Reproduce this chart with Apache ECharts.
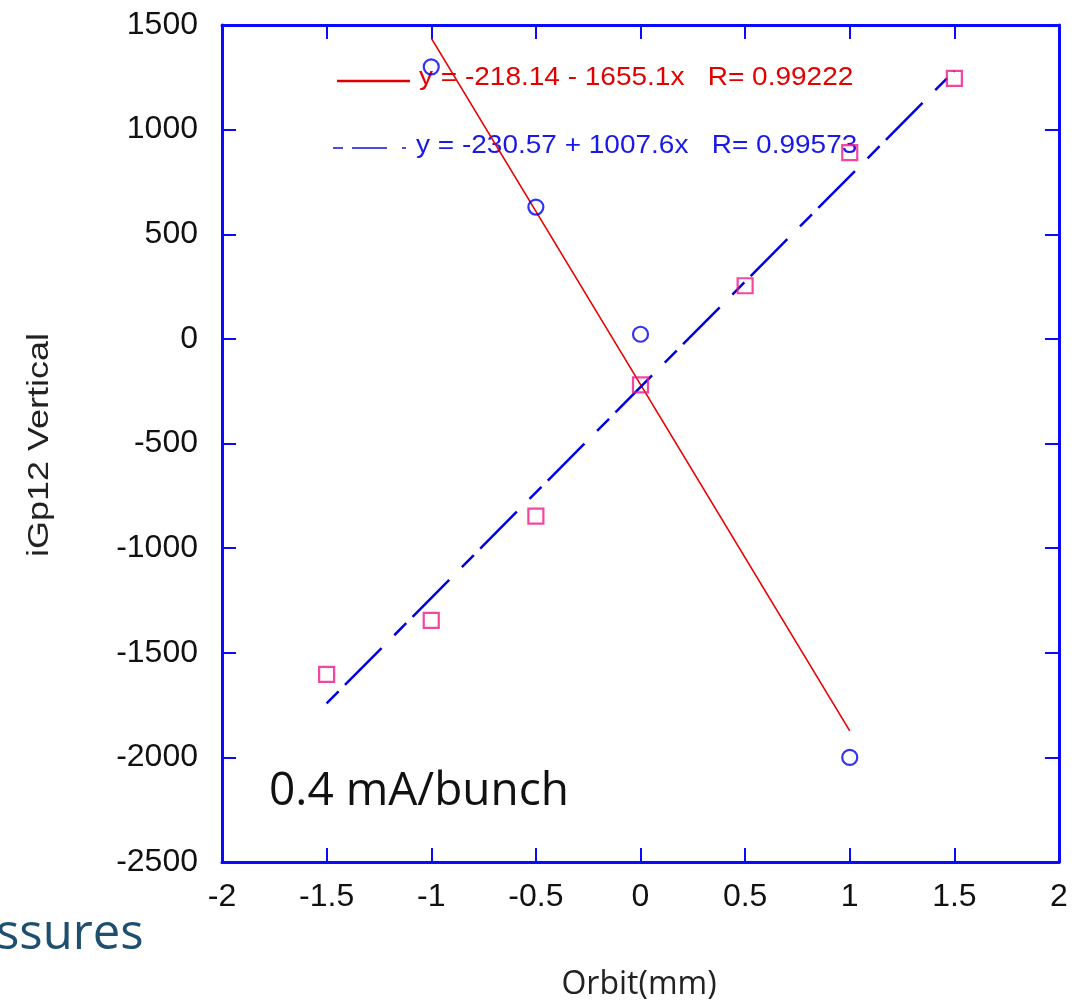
<!DOCTYPE html>
<html><head><meta charset="utf-8">
<script src="https://cdn.jsdelivr.net/npm/echarts@6/dist/echarts.min.js"></script>
<style>html,body{margin:0;padding:0;background:#fff}#c{width:1088px;height:1002px}</style>
</head><body><div id="c"></div>
<script>
const circlePts = [[-1, 1300], [-0.5, 630], [0, 22], [1, -2000]];
const squarePts = [[-1.5, -1603], [-1, -1345], [-0.5, -847], [0, -220], [0.5, 254], [1, 890], [1.5, 1245]];
const redFit = [[-1, 1437], [1, -1873]];
const blueFit = [[-1.5, -1742], [1.5, 1281]];
const redLabel = 'y = -218.14 - 1655.1x   R= 0.99222';
const blueLabel = 'y = -230.57 + 1007.6x   R= 0.99573';
const xTitle = 'Orbit(mm)';
const yTitle = 'iGp12 Vertical';
const note = '0.4 mA/bunch';
const cutText = 'ssures';

const AX = '#0a0aff';
const F = 'Liberation Sans, Arial, sans-serif';
const OS = '"Open Sans", "Noto Sans", sans-serif';
const chart = echarts.init(document.getElementById('c'));
const axisCommon = {
  axisLine: {show: true, onZero: false, lineStyle: {color: AX, width: 3}},
  axisTick: {show: true, inside: true, length: 14, lineStyle: {color: AX, width: 2}},
  splitLine: {show: false}
};
const plain = v => String(v);
chart.setOption({
  animation: false,
  backgroundColor: '#fff',
  grid: {left: 222, right: 29, top: 25, bottom: 140, containLabel: false},
  xAxis: [
    Object.assign({type: 'value', min: -2, max: 2, interval: 0.5, position: 'bottom',
      axisLabel: {color: '#111', fontSize: 32, fontFamily: F, margin: 19, formatter: plain}}, axisCommon),
    Object.assign({type: 'value', min: -2, max: 2, interval: 0.5, position: 'top',
      axisLabel: {show: false}}, axisCommon)
  ],
  yAxis: [
    Object.assign({type: 'value', min: -2500, max: 1500, interval: 500, position: 'left',
      axisLabel: {color: '#111', fontSize: 32, fontFamily: F, margin: 24, formatter: plain}}, axisCommon),
    Object.assign({type: 'value', min: -2500, max: 1500, interval: 500, position: 'right',
      axisLabel: {show: false}}, axisCommon)
  ],
  series: [
    {type: 'line', data: redFit, showSymbol: false, symbol: 'none',
      lineStyle: {color: '#e80000', width: 1.6}, z: 2},
    {type: 'line', data: blueFit, showSymbol: false, symbol: 'none',
      lineStyle: {color: '#0000e0', width: 2.5, type: [17, 9, 52, 18]}, z: 2},
    {type: 'scatter', data: circlePts, symbol: 'circle', symbolSize: 15,
      itemStyle: {color: 'rgba(255,255,255,0)', borderColor: '#0000f0', borderWidth: 2.2}, z: 3},
    {type: 'scatter', data: squarePts, symbol: 'rect', symbolSize: 15,
      itemStyle: {color: 'rgba(255,255,255,0)', borderColor: '#f0188a', borderWidth: 2.2}, z: 3}
  ],
  graphic: [
    {type: 'line', shape: {x1: 337, y1: 81, x2: 410, y2: 81}, style: {stroke: '#e00000', lineWidth: 2.5}},
    {type: 'text', x: 419, y: 78, scaleX: 1.12, style: {text: redLabel, fill: '#e40000', font: '25px ' + F, verticalAlign: 'middle'}},
    {type: 'line', shape: {x1: 333, y1: 148, x2: 407, y2: 148}, style: {stroke: '#1010e0', lineWidth: 1.5, lineDash: [10, 9, 35, 15, 4, 100]}},
    {type: 'text', x: 416, y: 146, scaleX: 1.12, style: {text: blueLabel, fill: '#1a1ae6', font: '25px ' + F, verticalAlign: 'middle'}},
    {type: 'text', x: 639, y: 985, style: {text: xTitle, fill: '#222', font: '32px ' + OS, align: 'center', verticalAlign: 'middle'}},
    {type: 'text', x: 40, y: 445, rotation: Math.PI / 2, scaleX: 1.2, style: {text: yTitle, fill: '#222', font: '30px ' + F, align: 'center', verticalAlign: 'middle'}},
    {type: 'text', x: 269, y: 792, style: {text: note, fill: '#111', font: '46px ' + OS, verticalAlign: 'middle'}},
    {type: 'text', x: -4, y: 935, style: {text: cutText, fill: '#1e4f70', font: '49px ' + OS, verticalAlign: 'middle'}}
  ]
});
</script></body></html>
